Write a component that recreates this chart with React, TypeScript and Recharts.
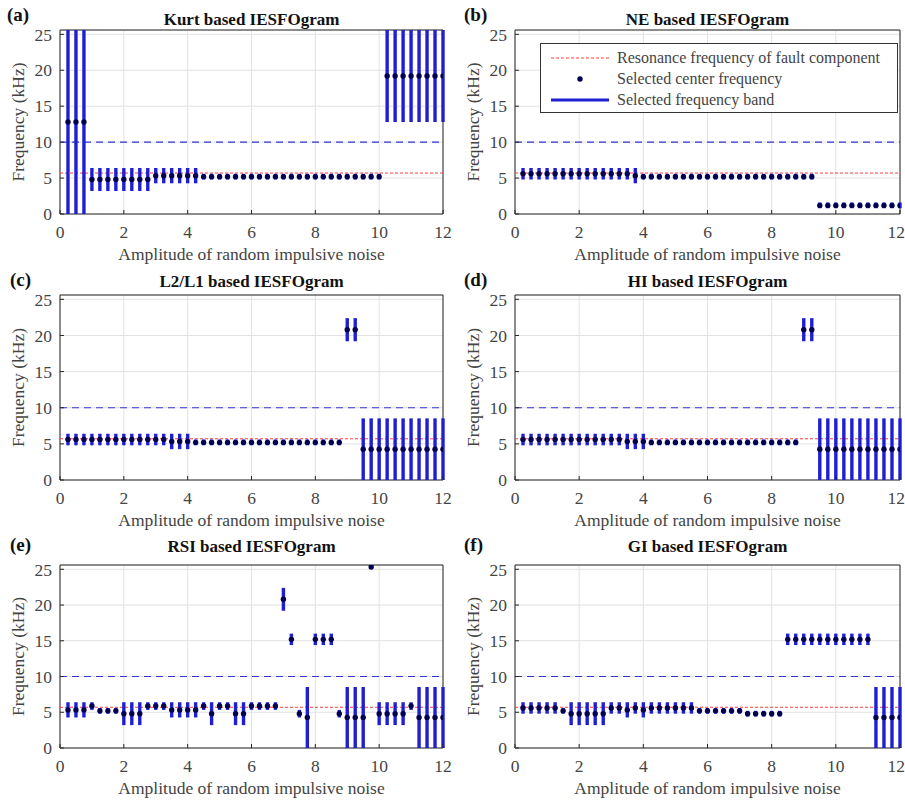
import React from 'react';
import {
  ScatterChart,
  Scatter,
  ErrorBar,
  XAxis,
  YAxis,
  CartesianGrid,
  ReferenceLine,
  ReferenceArea,
  Label,
} from 'recharts';

// amplitude of the random impulsive noise (x for every panel)
const amplitude = [
  0.25, 0.5, 0.75, 1, 1.25, 1.5, 1.75, 2, 2.25, 2.5, 2.75, 3,
  3.25, 3.5, 3.75, 4, 4.25, 4.5, 4.75, 5, 5.25, 5.5, 5.75, 6,
  6.25, 6.5, 6.75, 7, 7.25, 7.5, 7.75, 8, 8.25, 8.5, 8.75, 9,
  9.25, 9.5, 9.75, 10, 10.25, 10.5, 10.75, 11, 11.25, 11.5, 11.75, 12,
];

const xTicks = [0, 2, 4, 6, 8, 10, 12];
const yTicks = [0, 5, 10, 15, 20, 25];
const nyquist = 25.6;
const resonanceFreq = 5.7;
const bandLimit = 10;

// Kurt
const kurtCenter = [
  12.8, 12.8, 12.8,
  4.8, 4.8, 4.8, 4.8, 4.8, 4.8, 4.8, 4.8,
  5.33, 5.33, 5.33, 5.33, 5.33, 5.33,
  5.2, 5.2, 5.2, 5.2, 5.2, 5.2, 5.2, 5.2, 5.2, 5.2, 5.2, 5.2,
  5.2, 5.2, 5.2, 5.2, 5.2, 5.2, 5.2, 5.2, 5.2, 5.2, 5.2,
  19.2, 19.2, 19.2, 19.2, 19.2, 19.2, 19.2, 19.2,
];
const kurtLow = [
  0, 0, 0,
  3.2, 3.2, 3.2, 3.2, 3.2, 3.2, 3.2, 3.2,
  4.27, 4.27, 4.27, 4.27, 4.27, 4.27,
  4.8, 4.8, 4.8, 4.8, 4.8, 4.8, 4.8, 4.8, 4.8, 4.8, 4.8, 4.8,
  4.8, 4.8, 4.8, 4.8, 4.8, 4.8, 4.8, 4.8, 4.8, 4.8, 4.8,
  12.8, 12.8, 12.8, 12.8, 12.8, 12.8, 12.8, 12.8,
];
const kurtHigh = [
  25.6, 25.6, 25.6,
  6.4, 6.4, 6.4, 6.4, 6.4, 6.4, 6.4, 6.4,
  6.4, 6.4, 6.4, 6.4, 6.4, 6.4,
  5.6, 5.6, 5.6, 5.6, 5.6, 5.6, 5.6, 5.6, 5.6, 5.6, 5.6, 5.6,
  5.6, 5.6, 5.6, 5.6, 5.6, 5.6, 5.6, 5.6, 5.6, 5.6, 5.6,
  25.6, 25.6, 25.6, 25.6, 25.6, 25.6, 25.6, 25.6,
];

// NE
const neCenter = [
  5.6, 5.6, 5.6, 5.6, 5.6, 5.6, 5.6, 5.6, 5.6, 5.6, 5.6, 5.6, 5.6, 5.6,
  5.33,
  5.2, 5.2, 5.2, 5.2, 5.2, 5.2, 5.2, 5.2, 5.2, 5.2, 5.2,
  5.2, 5.2, 5.2, 5.2, 5.2, 5.2, 5.2, 5.2, 5.2, 5.2, 5.2,
  1.2, 1.2, 1.2, 1.2, 1.2, 1.2, 1.2, 1.2, 1.2, 1.2, 1.2,
];
const neLow = [
  4.8, 4.8, 4.8, 4.8, 4.8, 4.8, 4.8, 4.8, 4.8, 4.8, 4.8, 4.8, 4.8, 4.8,
  4.27,
  4.8, 4.8, 4.8, 4.8, 4.8, 4.8, 4.8, 4.8, 4.8, 4.8, 4.8,
  4.8, 4.8, 4.8, 4.8, 4.8, 4.8, 4.8, 4.8, 4.8, 4.8, 4.8,
  0.8, 0.8, 0.8, 0.8, 0.8, 0.8, 0.8, 0.8, 0.8, 0.8, 0.8,
];
const neHigh = [
  6.4, 6.4, 6.4, 6.4, 6.4, 6.4, 6.4, 6.4, 6.4, 6.4, 6.4, 6.4, 6.4, 6.4,
  6.4,
  5.6, 5.6, 5.6, 5.6, 5.6, 5.6, 5.6, 5.6, 5.6, 5.6, 5.6,
  5.6, 5.6, 5.6, 5.6, 5.6, 5.6, 5.6, 5.6, 5.6, 5.6, 5.6,
  1.6, 1.6, 1.6, 1.6, 1.6, 1.6, 1.6, 1.6, 1.6, 1.6, 1.6,
];

// L2/L1
const l2l1Center = [
  5.6, 5.6, 5.6, 5.6, 5.6, 5.6, 5.6, 5.6, 5.6, 5.6, 5.6, 5.6, 5.6,
  5.33, 5.33, 5.33,
  5.2, 5.2, 5.2, 5.2, 5.2, 5.2, 5.2, 5.2, 5.2, 5.2,
  5.2, 5.2, 5.2, 5.2, 5.2, 5.2, 5.2, 5.2, 5.2,
  20.8, 20.8,
  4.27, 4.27, 4.27, 4.27, 4.27, 4.27, 4.27, 4.27, 4.27, 4.27, 4.27,
];
const l2l1Low = [
  4.8, 4.8, 4.8, 4.8, 4.8, 4.8, 4.8, 4.8, 4.8, 4.8, 4.8, 4.8, 4.8,
  4.27, 4.27, 4.27,
  4.8, 4.8, 4.8, 4.8, 4.8, 4.8, 4.8, 4.8, 4.8, 4.8,
  4.8, 4.8, 4.8, 4.8, 4.8, 4.8, 4.8, 4.8, 4.8,
  19.2, 19.2,
  0, 0, 0, 0, 0, 0, 0, 0, 0, 0, 0,
];
const l2l1High = [
  6.4, 6.4, 6.4, 6.4, 6.4, 6.4, 6.4, 6.4, 6.4, 6.4, 6.4, 6.4, 6.4,
  6.4, 6.4, 6.4,
  5.6, 5.6, 5.6, 5.6, 5.6, 5.6, 5.6, 5.6, 5.6, 5.6,
  5.6, 5.6, 5.6, 5.6, 5.6, 5.6, 5.6, 5.6, 5.6,
  22.4, 22.4,
  8.53, 8.53, 8.53, 8.53, 8.53, 8.53, 8.53, 8.53, 8.53, 8.53, 8.53,
];

// HI
const hiCenter = [
  5.6, 5.6, 5.6, 5.6, 5.6, 5.6, 5.6, 5.6, 5.6, 5.6, 5.6, 5.6, 5.6,
  5.33, 5.33, 5.33,
  5.2, 5.2, 5.2, 5.2, 5.2, 5.2, 5.2, 5.2, 5.2, 5.2,
  5.2, 5.2, 5.2, 5.2, 5.2, 5.2, 5.2, 5.2, 5.2,
  20.8, 20.8,
  4.27, 4.27, 4.27, 4.27, 4.27, 4.27, 4.27, 4.27, 4.27, 4.27, 4.27,
];
const hiLow = [
  4.8, 4.8, 4.8, 4.8, 4.8, 4.8, 4.8, 4.8, 4.8, 4.8, 4.8, 4.8, 4.8,
  4.27, 4.27, 4.27,
  4.8, 4.8, 4.8, 4.8, 4.8, 4.8, 4.8, 4.8, 4.8, 4.8,
  4.8, 4.8, 4.8, 4.8, 4.8, 4.8, 4.8, 4.8, 4.8,
  19.2, 19.2,
  0, 0, 0, 0, 0, 0, 0, 0, 0, 0, 0,
];
const hiHigh = [
  6.4, 6.4, 6.4, 6.4, 6.4, 6.4, 6.4, 6.4, 6.4, 6.4, 6.4, 6.4, 6.4,
  6.4, 6.4, 6.4,
  5.6, 5.6, 5.6, 5.6, 5.6, 5.6, 5.6, 5.6, 5.6, 5.6,
  5.6, 5.6, 5.6, 5.6, 5.6, 5.6, 5.6, 5.6, 5.6,
  22.4, 22.4,
  8.53, 8.53, 8.53, 8.53, 8.53, 8.53, 8.53, 8.53, 8.53, 8.53, 8.53,
];

// RSI
const rsiCenter = [
  5.33, 5.33, 5.33, 5.87, 5.2, 5.2, 5.2, 4.8, 4.8, 4.8,
  5.87, 5.87, 5.87, 5.33, 5.33, 5.33, 5.33, 5.87, 4.8, 5.87,
  5.87, 4.8, 4.8, 5.87, 5.87, 5.87, 5.87, 20.8, 15.2, 4.8,
  4.27, 15.2, 15.2, 15.2, 4.8, 4.27, 4.27, 4.27, 25.33, 4.8,
  4.8, 4.8, 4.8, 5.87, 4.27, 4.27, 4.27, 4.27,
];
const rsiLow = [
  4.27, 4.27, 4.27, 5.33, 4.8, 4.8, 4.8, 3.2, 3.2, 3.2,
  5.33, 5.33, 5.33, 4.27, 4.27, 4.27, 4.27, 5.33, 3.2, 5.33,
  5.33, 3.2, 3.2, 5.33, 5.33, 5.33, 5.33, 19.2, 14.4, 4.27,
  0, 14.4, 14.4, 14.4, 4.27, 0, 0, 0, 25.07, 3.2,
  3.2, 3.2, 3.2, 5.33, 0, 0, 0, 0,
];
const rsiHigh = [
  6.4, 6.4, 6.4, 6.4, 5.6, 5.6, 5.6, 6.4, 6.4, 6.4,
  6.4, 6.4, 6.4, 6.4, 6.4, 6.4, 6.4, 6.4, 6.4, 6.4,
  6.4, 6.4, 6.4, 6.4, 6.4, 6.4, 6.4, 22.4, 16, 5.33,
  8.53, 16, 16, 16, 5.33, 8.53, 8.53, 8.53, 25.6, 6.4,
  6.4, 6.4, 6.4, 6.4, 8.53, 8.53, 8.53, 8.53,
];

// GI
const giCenter = [
  5.6, 5.6, 5.6, 5.6, 5.6, 5.2, 4.8, 4.8, 4.8, 4.8,
  4.8, 5.6, 5.6, 5.33, 5.6, 5.33, 5.6, 5.6, 5.6, 5.6,
  5.6, 5.6, 5.2, 5.2, 5.2, 5.2, 5.2, 5.2, 4.8, 4.8,
  4.8, 4.8, 4.8, 15.2, 15.2, 15.2, 15.2, 15.2, 15.2, 15.2,
  15.2, 15.2, 15.2, 15.2, 4.27, 4.27, 4.27, 4.27,
];
const giLow = [
  4.8, 4.8, 4.8, 4.8, 4.8, 4.8, 3.2, 3.2, 3.2, 3.2,
  3.2, 4.8, 4.8, 4.27, 4.8, 4.27, 4.8, 4.8, 4.8, 4.8,
  4.8, 4.8, 4.8, 4.8, 4.8, 4.8, 4.8, 4.8, 4.4, 4.4,
  4.4, 4.4, 4.4, 14.4, 14.4, 14.4, 14.4, 14.4, 14.4, 14.4,
  14.4, 14.4, 14.4, 14.4, 0, 0, 0, 0,
];
const giHigh = [
  6.4, 6.4, 6.4, 6.4, 6.4, 5.6, 6.4, 6.4, 6.4, 6.4,
  6.4, 6.4, 6.4, 6.4, 6.4, 6.4, 6.4, 6.4, 6.4, 6.4,
  6.4, 6.4, 5.6, 5.6, 5.6, 5.6, 5.6, 5.6, 5.2, 5.2,
  5.2, 5.2, 5.2, 16, 16, 16, 16, 16, 16, 16,
  16, 16, 16, 16, 8.53, 8.53, 8.53, 8.53,
];

const SERIF = 'Liberation Serif, Times New Roman, serif';
const BAND_BLUE = '#1f1fd2';
const DOT_COLOR = '#000050';
const TEXT_GRAY = '#444';
const FONT_SIZE = 17.5;

type Box = { left: number; top: number; width: number; height: number };
type Margin = { top: number; right: number; bottom: number; left: number };

interface PanelProps {
  tag: string;
  title: string;
  center: number[];
  low: number[];
  high: number[];
  box: Box;
  margin: Margin;
  titleY: number;
  tagX: number;
  tagY: number;
  showLegend?: boolean;
}

const CenterDot = (props: any) => (
  <circle cx={props.cx} cy={props.cy} r={2.7} fill={DOT_COLOR} />
);

const tickStyle = { fontSize: FONT_SIZE, fontFamily: SERIF, fill: TEXT_GRAY };
const tickLineStyle = { stroke: '#262626' };

function BandLegend() {
  const rowText = {
    position: 'absolute' as const,
    left: 76,
    fontSize: 16,
    lineHeight: '16px',
    color: TEXT_GRAY,
    whiteSpace: 'nowrap' as const,
  };
  return (
    <div
      style={{
        position: 'absolute',
        left: 88,
        top: 43,
        width: 356,
        height: 68,
        border: '1px solid #333',
        background: '#fff',
        fontFamily: SERIF,
      }}
    >
      <svg width={356} height={68} style={{ position: 'absolute', left: 0, top: 0 }}>
        <line x1={10} x2={68} y1={14} y2={14} stroke="#ff3b3b" strokeDasharray="3 2" />
        <circle cx={39} cy={35} r={2.7} fill={DOT_COLOR} />
        <line x1={10} x2={68} y1={56} y2={56} stroke={BAND_BLUE} strokeWidth={3} />
      </svg>
      <div style={{ ...rowText, top: 6 }}>Resonance frequency of fault component</div>
      <div style={{ ...rowText, top: 27 }}>Selected center frequency</div>
      <div style={{ ...rowText, top: 48 }}>Selected frequency band</div>
    </div>
  );
}

function Panel({
  tag, title, center, low, high, box, margin, titleY, tagX, tagY, showLegend,
}: PanelProps) {
  const rows = amplitude.map((x, i) => ({
    x,
    f: center[i],
    band: [center[i] - low[i], high[i] - center[i]],
  }));
  const plotLeft = margin.left + 50;
  const plotRight = box.width - margin.right;

  return (
    <div style={{ position: 'absolute', ...box }}>
      <ScatterChart width={box.width} height={box.height} margin={margin}>
        <CartesianGrid stroke="#e2e2e2" />
        <XAxis
          type="number"
          dataKey="x"
          domain={[0, 12]}
          ticks={xTicks}
          allowDataOverflow
          axisLine={false}
          tickLine={tickLineStyle}
          tickSize={-4}
          tickMargin={16}
          height={46}
          tick={tickStyle}
        >
          <Label
            value="Amplitude of random impulsive noise"
            position="insideBottom"
            offset={0}
            style={tickStyle}
          />
        </XAxis>
        {/* mirrored axes only carry the inward ticks on the top and right edges */}
        <XAxis
          xAxisId="top"
          orientation="top"
          type="number"
          domain={[0, 12]}
          ticks={xTicks}
          allowDataOverflow
          axisLine={false}
          tickLine={tickLineStyle}
          tickSize={-4}
          tick={false}
          height={0}
        />
        <YAxis
          type="number"
          dataKey="f"
          domain={[0, nyquist]}
          ticks={yTicks}
          allowDataOverflow
          axisLine={false}
          tickLine={tickLineStyle}
          tickSize={-4}
          tickMargin={12}
          width={50}
          tick={tickStyle}
        >
          <Label
            value="Frequency (kHz)"
            angle={-90}
            position="insideLeft"
            offset={8}
            style={{ ...tickStyle, textAnchor: 'middle' }}
          />
        </YAxis>
        <YAxis
          yAxisId="right"
          orientation="right"
          type="number"
          domain={[0, nyquist]}
          ticks={yTicks}
          allowDataOverflow
          axisLine={false}
          tickLine={tickLineStyle}
          tickSize={-4}
          tick={false}
          width={0}
        />
        <ReferenceLine y={resonanceFreq} stroke="#ff3b3b" strokeDasharray="3 2" />
        <ReferenceLine y={bandLimit} stroke="#3535d0" strokeWidth={1.2} strokeDasharray="7 5" />
        <Scatter data={rows} dataKey="f" shape={CenterDot} isAnimationActive={false}>
          <ErrorBar
            dataKey="band"
            direction="y"
            width={0}
            stroke={BAND_BLUE}
            strokeWidth={3.4}
            isAnimationActive={false}
          />
        </Scatter>
        <ReferenceArea
          x1={0}
          x2={12}
          y1={0}
          y2={nyquist}
          fill="none"
          fillOpacity={0}
          stroke="#262626"
          strokeWidth={1}
        />
      </ScatterChart>

      <div
        style={{
          position: 'absolute',
          left: plotLeft,
          width: plotRight - plotLeft,
          top: titleY - 9,
          lineHeight: '18px',
          fontSize: 17,
          fontWeight: 'bold',
          fontFamily: SERIF,
          textAlign: 'center',
          color: '#111',
        }}
      >
        {title}
      </div>
      <div
        style={{
          position: 'absolute',
          left: tagX,
          top: tagY - 10,
          lineHeight: '20px',
          fontSize: 19,
          fontWeight: 'bold',
          fontFamily: SERIF,
          color: '#111',
        }}
      >
        {tag}
      </div>
      {showLegend && <BandLegend />}
    </div>
  );
}

const leftMargin = (top: number, bottom: number): Margin => ({ top, right: 9, bottom, left: 10 });
const rightMargin = (top: number, bottom: number): Margin => ({ top, right: 5, bottom, left: 13 });

export default function App() {
  return (
    <div
      style={{
        position: 'absolute',
        left: 0,
        top: 0,
        width: 905,
        height: 800,
        background: '#fff',
        overflow: 'hidden',
      }}
    >
      <Panel
        tag="(a)" title="Kurt based IESFOgram"
        center={kurtCenter} low={kurtLow} high={kurtHigh}
        box={{ left: 0, top: 0, width: 452, height: 266 }}
        margin={leftMargin(30, 6)} titleY={20} tagX={7} tagY={15}
      />
      <Panel
        tag="(b)" title="NE based IESFOgram"
        center={neCenter} low={neLow} high={neHigh}
        box={{ left: 452, top: 0, width: 453, height: 266 }}
        margin={rightMargin(30, 6)} titleY={20} tagX={12} tagY={15}
        showLegend
      />
      <Panel
        tag="(c)" title="L2/L1 based IESFOgram"
        center={l2l1Center} low={l2l1Low} high={l2l1High}
        box={{ left: 0, top: 266, width: 452, height: 266 }}
        margin={leftMargin(29, 6)} titleY={16} tagX={10} tagY={14}
      />
      <Panel
        tag="(d)" title="HI based IESFOgram"
        center={hiCenter} low={hiLow} high={hiHigh}
        box={{ left: 452, top: 266, width: 453, height: 266 }}
        margin={rightMargin(29, 6)} titleY={16} tagX={12} tagY={14}
      />
      <Panel
        tag="(e)" title="RSI based IESFOgram"
        center={rsiCenter} low={rsiLow} high={rsiHigh}
        box={{ left: 0, top: 532, width: 452, height: 268 }}
        margin={leftMargin(33, 6)} titleY={15} tagX={10} tagY={13}
      />
      <Panel
        tag="(f)" title="GI based IESFOgram"
        center={giCenter} low={giLow} high={giHigh}
        box={{ left: 452, top: 532, width: 453, height: 268 }}
        margin={rightMargin(33, 6)} titleY={15} tagX={12} tagY={13}
      />
    </div>
  );
}
